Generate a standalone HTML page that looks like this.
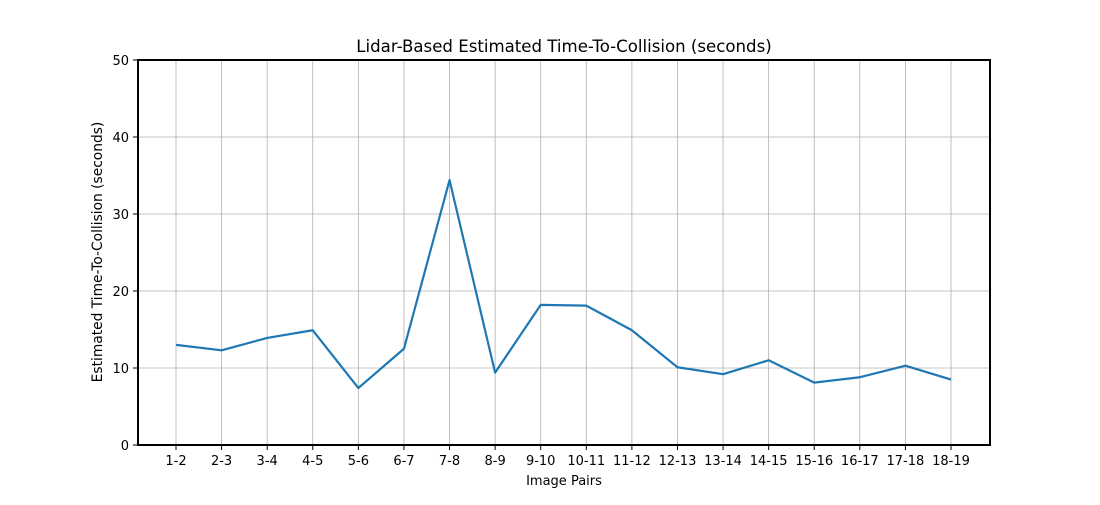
<!DOCTYPE html>
<html><head><meta charset="utf-8"><style>
body{margin:0;background:#fff;}
svg text{font-family:"DejaVu Sans","Liberation Sans",sans-serif;}
</style></head><body>
<svg id="chart" width="1100" height="500" xmlns="http://www.w3.org/2000/svg">
<rect width="1100" height="500" fill="#fff"/>
<g id="grid"></g><g id="ticks"></g>
<path id="line" fill="none" stroke="#1f77b4" stroke-width="2.2" stroke-linejoin="round"/>
<rect x="138" y="60" width="852" height="385" fill="none" stroke="#000" stroke-width="2"/>
<text x="564" y="52" font-size="16.6" text-anchor="middle">Lidar-Based Estimated Time-To-Collision (seconds)</text>
<text x="564" y="485" font-size="13" text-anchor="middle">Image Pairs</text>
<text x="102" y="252" font-size="13.8" text-anchor="middle" transform="rotate(-90 102 252)">Estimated Time-To-Collision (seconds)</text>
</svg>
<script>
const categories=["1-2","2-3","3-4","4-5","5-6","6-7","7-8","8-9","9-10","10-11","11-12","12-13","13-14","14-15","15-16","16-17","17-18","18-19"];
const ttcValues=[13.0,12.3,13.9,14.9,7.4,12.5,34.4,9.4,18.2,18.1,14.9,10.1,9.2,11.0,8.1,8.8,10.3,8.5];
const yTicks=[0,10,20,30,40,50];
const NS="http://www.w3.org/2000/svg";
const x0=138,x1=990,y0=445,y1=60;
const xs=i=>176+i*(951-176)/(categories.length-1);
const ys=v=>y0-(v-0)/(50-0)*(y0-y1);
const grid=document.getElementById('grid'),ticks=document.getElementById('ticks');
function mk(tag,attrs,parent){const e=document.createElementNS(NS,tag);for(const k in attrs)e.setAttribute(k,attrs[k]);parent.appendChild(e);return e;}
categories.forEach((c,i)=>{
 const x=xs(i);
 const g=mk('line',{x1:x,x2:x,y1:y1,y2:y0,stroke:'#b0b0b0','stroke-width':0.8},grid);
 
 
 mk('line',{x1:x,x2:x,y1:y0,y2:y0+5,stroke:'#000'},ticks);
 const t=mk('text',{x:x,y:y0+20,'font-size':13,'text-anchor':'middle'},ticks);
 t.textContent=c;
 
 
});
yTicks.forEach(v=>{
 const y=ys(v);
 const g=mk('line',{x1:x0,x2:x1,y1:y,y2:y,stroke:'#b0b0b0','stroke-width':0.8},grid);
 
 
 mk('line',{x1:x0-5,x2:x0,y1:y,y2:y,stroke:'#000'},ticks);
 const t=mk('text',{x:x0-9,y:y+5,'font-size':13,'text-anchor':'end'},ticks);
 t.textContent=v;
 
 
});
document.getElementById('line').setAttribute('d',ttcValues.map((v,i)=>(i?'L':'M')+xs(i)+','+ys(v)).join(''));
</script>
</body></html>
